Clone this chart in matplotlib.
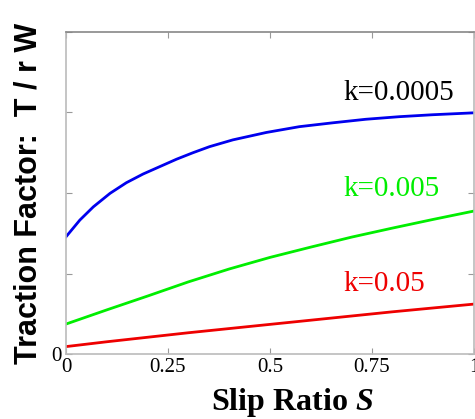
import numpy as np
import matplotlib.pyplot as plt

plt.rcParams['mathtext.fontset'] = 'custom'
plt.rcParams['mathtext.bfit'] = 'Liberation Serif:italic:bold'

# --- DATA ---
slip_a = [0.0, 0.034, 0.067, 0.108, 0.148, 0.189, 0.23, 0.271, 0.311, 0.352,
          0.409, 0.491, 0.572, 0.654, 0.735, 0.817, 0.898, 1.0]
k_0005 = [0.364, 0.416, 0.457, 0.499, 0.532, 0.559, 0.582, 0.605, 0.625, 0.644,
          0.665, 0.688, 0.706, 0.718, 0.729, 0.737, 0.743, 0.749]

slip_b = [0.0, 0.1, 0.2, 0.3, 0.4, 0.5, 0.6, 0.7, 0.8, 0.9, 1.0]
k_005 = [0.093, 0.137, 0.18, 0.224, 0.264, 0.3, 0.332, 0.363, 0.391, 0.418, 0.444]
k_05 = [0.023, 0.038, 0.052, 0.066, 0.079, 0.092, 0.105, 0.118, 0.131, 0.143, 0.155]

x_ticks = [0, 0.25, 0.5, 0.75, 1]
x_tick_labels = ['0', '0.25', '0.5', '0.75', '1']
y_ticks = [0, 0.25, 0.5, 0.75, 1]
y_tick_labels = ['0', '', '', '', '']

SERIF = 'Liberation Serif'
SANS = 'Liberation Sans'

fig = plt.figure(figsize=(4.75, 4.19), dpi=100)
ax = fig.add_axes([66 / 475, 65 / 419, 408 / 475, 322 / 419])

ax.plot(slip_a, k_0005, color='#0000ee', lw=2.0)
ax.plot(slip_b, k_005, color='#00ee00', lw=2.0)
ax.plot(slip_b, k_05, color='#ee0000', lw=2.0)

ax.text(0.68, 0.81, 'k=0.0005', color='black', fontsize=21, family=SERIF,
        va='center', ha='left')
ax.text(0.68, 0.513, 'k=0.005', color='#00ee00', fontsize=21, family=SERIF,
        va='center', ha='left')
ax.text(0.68, 0.217, 'k=0.05', color='#ee0000', fontsize=21, family=SERIF,
        va='center', ha='left')

ax.set_xlim(0, 1)
ax.set_ylim(0, 1)
ax.set_xticks(x_ticks)
ax.set_xticklabels(x_tick_labels, family=SERIF, fontsize=15)
ax.set_yticks(y_ticks)
ax.set_yticklabels(y_tick_labels, family=SERIF, fontsize=15)
ax.tick_params(direction='in', length=4, color='#999999', top=True, right=True,
               pad=3)

for side in ['left', 'bottom', 'right']:
    ax.spines[side].set_color('#bbbbbb')
ax.spines['top'].set_color('#888888')
for s in ax.spines.values():
    s.set_linewidth(1.2)

ax.set_xlabel(r'Slip Ratio $\mathbfit{S}$', family=SERIF, fontsize=23,
              fontweight='bold')
ax.xaxis.set_label_coords(0.554, -0.1)
ax.set_ylabel('Traction Factor:  T / r W', family=SANS, fontsize=22,
              fontweight='bold', labelpad=6)

fig.savefig('out.png', dpi=100)
